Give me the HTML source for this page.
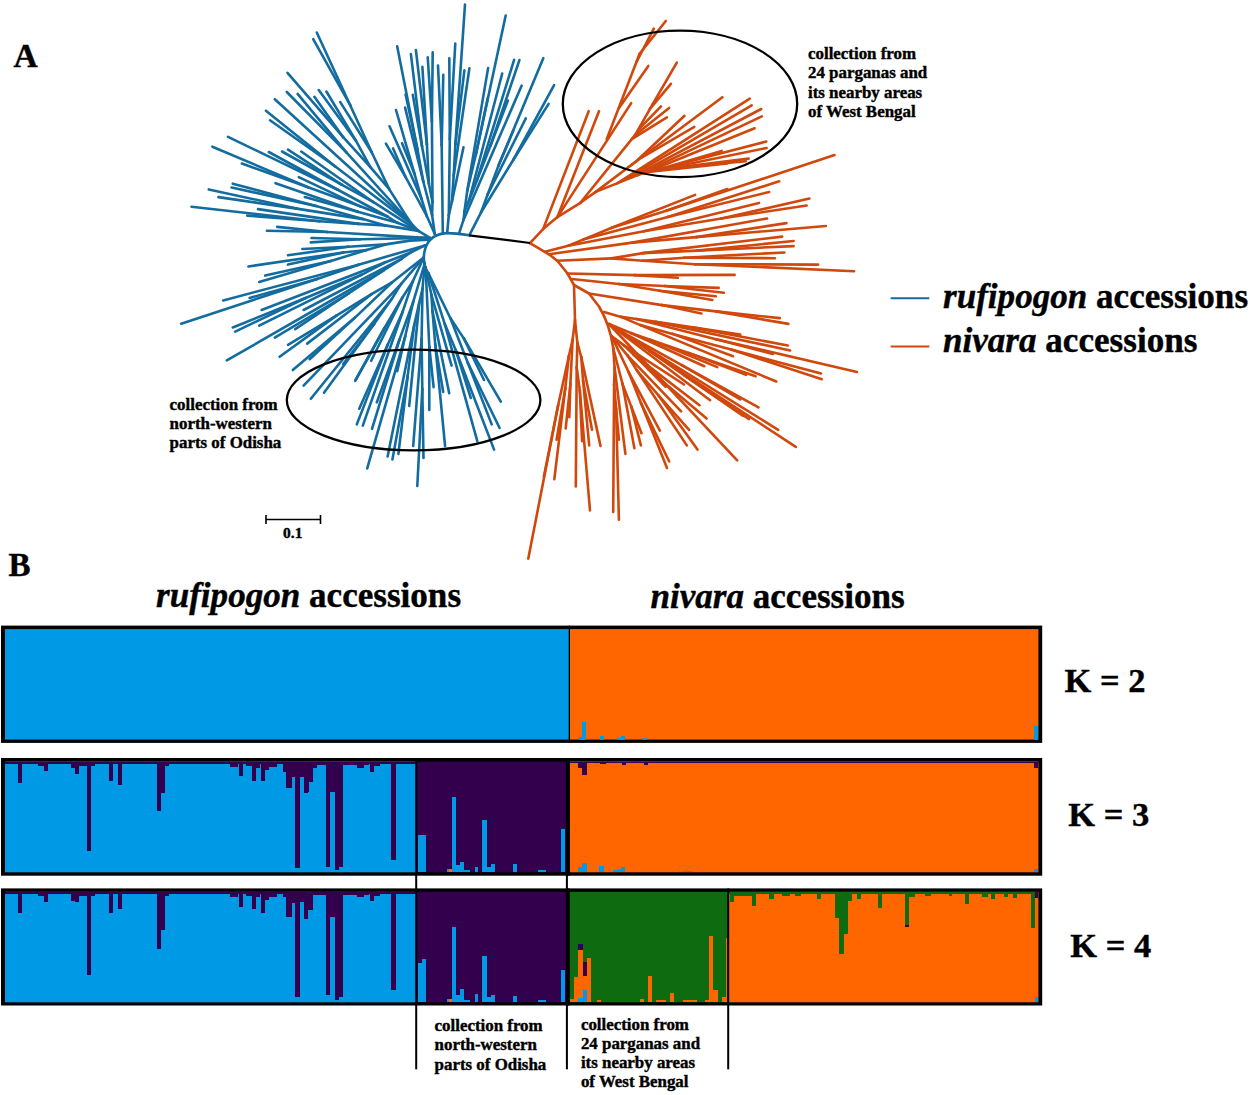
<!DOCTYPE html>
<html><head><meta charset="utf-8"><title>Figure</title>
<style>
html,body{margin:0;padding:0;background:#fff;}
#fig{position:relative;width:1250px;height:1095px;overflow:hidden;background:#fff;font-family:"Liberation Serif",serif;font-weight:bold;color:#000;}
#fig svg{position:absolute;left:0;top:0;}
.t{position:absolute;white-space:nowrap;margin:0;padding:0;-webkit-text-stroke:0.4px #000;}
</style></head><body>
<div id="fig">
<svg width="1250" height="1095" viewBox="0 0 1250 1095">
<g stroke-linecap="round" fill="none">
<line x1="429.9" y1="237.8" x2="418.4" y2="230.9" stroke="#136c9f" stroke-width="2.6"/>
<line x1="418.4" y1="230.9" x2="412.0" y2="224.5" stroke="#136c9f" stroke-width="2.6"/>
<line x1="412.0" y1="224.5" x2="407.0" y2="217.3" stroke="#136c9f" stroke-width="2.6"/>
<line x1="247.2" y1="215.6" x2="319.7" y2="221.2" stroke="#136c9f" stroke-width="2.6"/>
<line x1="191.5" y1="206.7" x2="319.7" y2="221.2" stroke="#136c9f" stroke-width="2.6"/>
<line x1="231.6" y1="187.5" x2="316.0" y2="206.0" stroke="#136c9f" stroke-width="2.6"/>
<line x1="232.8" y1="183.7" x2="316.0" y2="206.0" stroke="#136c9f" stroke-width="2.6"/>
<line x1="241.9" y1="163.5" x2="308.1" y2="187.3" stroke="#136c9f" stroke-width="2.6"/>
<line x1="212.4" y1="146.7" x2="308.1" y2="187.3" stroke="#136c9f" stroke-width="2.6"/>
<line x1="228.0" y1="136.9" x2="337.3" y2="189.5" stroke="#136c9f" stroke-width="2.6"/>
<line x1="268.8" y1="152.0" x2="337.3" y2="189.5" stroke="#136c9f" stroke-width="2.6"/>
<line x1="218.4" y1="197.1" x2="296.7" y2="208.6" stroke="#136c9f" stroke-width="2.6"/>
<line x1="208.8" y1="189.4" x2="296.7" y2="208.6" stroke="#136c9f" stroke-width="2.6"/>
<line x1="282.0" y1="151.5" x2="341.6" y2="184.6" stroke="#136c9f" stroke-width="2.6"/>
<line x1="288.0" y1="149.6" x2="341.6" y2="184.6" stroke="#136c9f" stroke-width="2.6"/>
<line x1="304.8" y1="197.1" x2="357.8" y2="211.8" stroke="#136c9f" stroke-width="2.6"/>
<line x1="275.5" y1="183.2" x2="357.8" y2="211.8" stroke="#136c9f" stroke-width="2.6"/>
<line x1="319.7" y1="221.2" x2="358.7" y2="223.9" stroke="#136c9f" stroke-width="2.6"/>
<line x1="258.0" y1="209.1" x2="358.7" y2="223.9" stroke="#136c9f" stroke-width="2.6"/>
<line x1="308.1" y1="187.3" x2="360.2" y2="206.3" stroke="#136c9f" stroke-width="2.6"/>
<line x1="298.8" y1="177.2" x2="360.2" y2="206.3" stroke="#136c9f" stroke-width="2.6"/>
<line x1="341.6" y1="184.6" x2="373.5" y2="202.2" stroke="#136c9f" stroke-width="2.6"/>
<line x1="301.2" y1="151.5" x2="373.5" y2="202.2" stroke="#136c9f" stroke-width="2.6"/>
<line x1="296.7" y1="208.6" x2="363.0" y2="219.1" stroke="#136c9f" stroke-width="2.6"/>
<line x1="316.0" y1="206.0" x2="363.0" y2="219.1" stroke="#136c9f" stroke-width="2.6"/>
<line x1="360.2" y1="206.3" x2="387.4" y2="216.5" stroke="#136c9f" stroke-width="2.6"/>
<line x1="337.3" y1="189.5" x2="387.4" y2="216.5" stroke="#136c9f" stroke-width="2.6"/>
<line x1="358.7" y1="223.9" x2="385.2" y2="225.4" stroke="#136c9f" stroke-width="2.6"/>
<line x1="363.0" y1="219.1" x2="385.2" y2="225.4" stroke="#136c9f" stroke-width="2.6"/>
<line x1="357.8" y1="211.8" x2="397.5" y2="222.8" stroke="#136c9f" stroke-width="2.6"/>
<line x1="387.4" y1="216.5" x2="397.5" y2="222.8" stroke="#136c9f" stroke-width="2.6"/>
<line x1="385.2" y1="225.4" x2="418.4" y2="230.9" stroke="#136c9f" stroke-width="2.6"/>
<line x1="397.5" y1="222.8" x2="418.4" y2="230.9" stroke="#136c9f" stroke-width="2.6"/>
<line x1="373.5" y1="202.2" x2="418.4" y2="230.9" stroke="#136c9f" stroke-width="2.6"/>
<line x1="270.0" y1="120.3" x2="335.3" y2="166.5" stroke="#136c9f" stroke-width="2.6"/>
<line x1="265.9" y1="110.7" x2="335.3" y2="166.5" stroke="#136c9f" stroke-width="2.6"/>
<line x1="286.8" y1="92.0" x2="346.4" y2="152.4" stroke="#136c9f" stroke-width="2.6"/>
<line x1="297.6" y1="93.9" x2="346.4" y2="152.4" stroke="#136c9f" stroke-width="2.6"/>
<line x1="335.3" y1="166.5" x2="412.0" y2="224.5" stroke="#136c9f" stroke-width="2.6"/>
<line x1="274.8" y1="99.2" x2="412.0" y2="224.5" stroke="#136c9f" stroke-width="2.6"/>
<line x1="346.4" y1="152.4" x2="412.0" y2="224.5" stroke="#136c9f" stroke-width="2.6"/>
<line x1="313.2" y1="39.2" x2="350.2" y2="105.2" stroke="#136c9f" stroke-width="2.6"/>
<line x1="316.8" y1="32.5" x2="350.2" y2="105.2" stroke="#136c9f" stroke-width="2.6"/>
<line x1="287.5" y1="72.8" x2="343.2" y2="137.2" stroke="#136c9f" stroke-width="2.6"/>
<line x1="314.4" y1="96.8" x2="343.2" y2="137.2" stroke="#136c9f" stroke-width="2.6"/>
<line x1="318.7" y1="90.1" x2="355.9" y2="140.7" stroke="#136c9f" stroke-width="2.6"/>
<line x1="326.4" y1="91.5" x2="355.9" y2="140.7" stroke="#136c9f" stroke-width="2.6"/>
<line x1="340.3" y1="102.1" x2="371.7" y2="152.3" stroke="#136c9f" stroke-width="2.6"/>
<line x1="350.2" y1="105.2" x2="371.7" y2="152.3" stroke="#136c9f" stroke-width="2.6"/>
<line x1="343.2" y1="137.2" x2="370.2" y2="166.8" stroke="#136c9f" stroke-width="2.6"/>
<line x1="355.9" y1="140.7" x2="370.2" y2="166.8" stroke="#136c9f" stroke-width="2.6"/>
<line x1="370.2" y1="166.8" x2="389.2" y2="189.1" stroke="#136c9f" stroke-width="2.6"/>
<line x1="371.7" y1="152.3" x2="389.2" y2="189.1" stroke="#136c9f" stroke-width="2.6"/>
<line x1="389.2" y1="189.1" x2="407.0" y2="217.3" stroke="#136c9f" stroke-width="2.6"/>
<line x1="429.9" y1="237.8" x2="425.0" y2="237.9" stroke="#136c9f" stroke-width="2.6"/>
<line x1="428.5" y1="239.6" x2="410.0" y2="240.6" stroke="#136c9f" stroke-width="2.6"/>
<line x1="266.9" y1="230.7" x2="327.3" y2="232.0" stroke="#136c9f" stroke-width="2.6"/>
<line x1="277.2" y1="226.9" x2="327.3" y2="232.0" stroke="#136c9f" stroke-width="2.6"/>
<line x1="310.8" y1="242.4" x2="360.1" y2="239.2" stroke="#136c9f" stroke-width="2.6"/>
<line x1="311.5" y1="238.0" x2="360.1" y2="239.2" stroke="#136c9f" stroke-width="2.6"/>
<line x1="327.3" y1="232.0" x2="425.0" y2="237.9" stroke="#136c9f" stroke-width="2.6"/>
<line x1="360.1" y1="239.2" x2="425.0" y2="237.9" stroke="#136c9f" stroke-width="2.6"/>
<line x1="259.2" y1="281.9" x2="330.8" y2="261.0" stroke="#136c9f" stroke-width="2.6"/>
<line x1="265.2" y1="275.6" x2="330.8" y2="261.0" stroke="#136c9f" stroke-width="2.6"/>
<line x1="288.0" y1="264.6" x2="343.3" y2="252.5" stroke="#136c9f" stroke-width="2.6"/>
<line x1="248.4" y1="266.5" x2="343.3" y2="252.5" stroke="#136c9f" stroke-width="2.6"/>
<line x1="288.0" y1="255.3" x2="348.3" y2="246.7" stroke="#136c9f" stroke-width="2.6"/>
<line x1="302.4" y1="249.0" x2="348.3" y2="246.7" stroke="#136c9f" stroke-width="2.6"/>
<line x1="330.8" y1="261.0" x2="366.7" y2="250.0" stroke="#136c9f" stroke-width="2.6"/>
<line x1="343.3" y1="252.5" x2="366.7" y2="250.0" stroke="#136c9f" stroke-width="2.6"/>
<line x1="366.7" y1="250.0" x2="385.7" y2="244.4" stroke="#136c9f" stroke-width="2.6"/>
<line x1="348.3" y1="246.7" x2="385.7" y2="244.4" stroke="#136c9f" stroke-width="2.6"/>
<line x1="385.7" y1="244.4" x2="410.0" y2="240.6" stroke="#136c9f" stroke-width="2.6"/>
<line x1="181.2" y1="323.7" x2="317.1" y2="278.9" stroke="#136c9f" stroke-width="2.6"/>
<line x1="249.6" y1="298.0" x2="317.1" y2="278.9" stroke="#136c9f" stroke-width="2.6"/>
<line x1="235.2" y1="331.6" x2="305.6" y2="298.0" stroke="#136c9f" stroke-width="2.6"/>
<line x1="232.8" y1="327.5" x2="305.6" y2="298.0" stroke="#136c9f" stroke-width="2.6"/>
<line x1="295.2" y1="329.2" x2="348.6" y2="293.5" stroke="#136c9f" stroke-width="2.6"/>
<line x1="274.8" y1="337.6" x2="348.6" y2="293.5" stroke="#136c9f" stroke-width="2.6"/>
<line x1="317.1" y1="278.9" x2="358.6" y2="264.7" stroke="#136c9f" stroke-width="2.6"/>
<line x1="223.2" y1="300.4" x2="358.6" y2="264.7" stroke="#136c9f" stroke-width="2.6"/>
<line x1="259.2" y1="325.6" x2="361.4" y2="274.8" stroke="#136c9f" stroke-width="2.6"/>
<line x1="305.6" y1="298.0" x2="361.4" y2="274.8" stroke="#136c9f" stroke-width="2.6"/>
<line x1="348.6" y1="293.5" x2="383.5" y2="270.5" stroke="#136c9f" stroke-width="2.6"/>
<line x1="226.8" y1="360.4" x2="383.5" y2="270.5" stroke="#136c9f" stroke-width="2.6"/>
<line x1="383.5" y1="270.5" x2="401.5" y2="258.8" stroke="#136c9f" stroke-width="2.6"/>
<line x1="303.6" y1="310.0" x2="401.5" y2="258.8" stroke="#136c9f" stroke-width="2.6"/>
<line x1="361.4" y1="274.8" x2="384.3" y2="262.8" stroke="#136c9f" stroke-width="2.6"/>
<line x1="261.6" y1="310.0" x2="384.3" y2="262.8" stroke="#136c9f" stroke-width="2.6"/>
<line x1="401.5" y1="258.8" x2="410.6" y2="252.5" stroke="#136c9f" stroke-width="2.6"/>
<line x1="384.3" y1="262.8" x2="410.6" y2="252.5" stroke="#136c9f" stroke-width="2.6"/>
<line x1="410.6" y1="252.5" x2="425.0" y2="245.4" stroke="#136c9f" stroke-width="2.6"/>
<line x1="358.6" y1="264.7" x2="425.0" y2="245.4" stroke="#136c9f" stroke-width="2.6"/>
<line x1="355.2" y1="380.8" x2="384.5" y2="328.0" stroke="#136c9f" stroke-width="2.6"/>
<line x1="355.6" y1="380.0" x2="384.5" y2="328.0" stroke="#136c9f" stroke-width="2.6"/>
<line x1="324.0" y1="392.8" x2="374.4" y2="323.6" stroke="#136c9f" stroke-width="2.6"/>
<line x1="343.2" y1="364.0" x2="374.4" y2="323.6" stroke="#136c9f" stroke-width="2.6"/>
<line x1="309.6" y1="359.2" x2="355.0" y2="317.6" stroke="#136c9f" stroke-width="2.6"/>
<line x1="292.8" y1="370.0" x2="355.0" y2="317.6" stroke="#136c9f" stroke-width="2.6"/>
<line x1="356.8" y1="424.4" x2="387.7" y2="344.7" stroke="#136c9f" stroke-width="2.6"/>
<line x1="359.2" y1="408.8" x2="387.7" y2="344.7" stroke="#136c9f" stroke-width="2.6"/>
<line x1="279.6" y1="356.8" x2="336.4" y2="315.6" stroke="#136c9f" stroke-width="2.6"/>
<line x1="288.0" y1="344.8" x2="336.4" y2="315.6" stroke="#136c9f" stroke-width="2.6"/>
<line x1="374.4" y1="323.6" x2="391.7" y2="299.0" stroke="#136c9f" stroke-width="2.6"/>
<line x1="310.8" y1="398.8" x2="391.7" y2="299.0" stroke="#136c9f" stroke-width="2.6"/>
<line x1="371.2" y1="360.8" x2="402.3" y2="297.7" stroke="#136c9f" stroke-width="2.6"/>
<line x1="384.5" y1="328.0" x2="402.3" y2="297.7" stroke="#136c9f" stroke-width="2.6"/>
<line x1="362.8" y1="425.6" x2="402.7" y2="311.7" stroke="#136c9f" stroke-width="2.6"/>
<line x1="387.7" y1="344.7" x2="402.7" y2="311.7" stroke="#136c9f" stroke-width="2.6"/>
<line x1="307.2" y1="343.6" x2="371.5" y2="294.2" stroke="#136c9f" stroke-width="2.6"/>
<line x1="336.4" y1="315.6" x2="371.5" y2="294.2" stroke="#136c9f" stroke-width="2.6"/>
<line x1="391.7" y1="299.0" x2="401.2" y2="283.9" stroke="#136c9f" stroke-width="2.6"/>
<line x1="303.6" y1="385.6" x2="401.2" y2="283.9" stroke="#136c9f" stroke-width="2.6"/>
<line x1="355.0" y1="317.6" x2="391.6" y2="282.7" stroke="#136c9f" stroke-width="2.6"/>
<line x1="371.5" y1="294.2" x2="391.6" y2="282.7" stroke="#136c9f" stroke-width="2.6"/>
<line x1="402.7" y1="311.7" x2="412.9" y2="281.2" stroke="#136c9f" stroke-width="2.6"/>
<line x1="402.3" y1="297.7" x2="412.9" y2="281.2" stroke="#136c9f" stroke-width="2.6"/>
<line x1="412.9" y1="281.2" x2="423.7" y2="257.5" stroke="#136c9f" stroke-width="2.6"/>
<line x1="401.2" y1="283.9" x2="423.7" y2="257.5" stroke="#136c9f" stroke-width="2.6"/>
<line x1="391.6" y1="282.7" x2="423.7" y2="257.5" stroke="#136c9f" stroke-width="2.6"/>
<line x1="397.2" y1="371.2" x2="405.2" y2="336.3" stroke="#136c9f" stroke-width="2.6"/>
<line x1="367.2" y1="468.4" x2="405.2" y2="336.3" stroke="#136c9f" stroke-width="2.6"/>
<line x1="372.0" y1="428.8" x2="399.5" y2="339.5" stroke="#136c9f" stroke-width="2.6"/>
<line x1="376.8" y1="402.4" x2="399.5" y2="339.5" stroke="#136c9f" stroke-width="2.6"/>
<line x1="398.4" y1="454.0" x2="407.7" y2="375.9" stroke="#136c9f" stroke-width="2.6"/>
<line x1="392.4" y1="459.5" x2="407.7" y2="375.9" stroke="#136c9f" stroke-width="2.6"/>
<line x1="423.5" y1="458.0" x2="422.3" y2="388.7" stroke="#136c9f" stroke-width="2.6"/>
<line x1="417.3" y1="486.0" x2="422.3" y2="388.7" stroke="#136c9f" stroke-width="2.6"/>
<line x1="407.7" y1="375.9" x2="414.2" y2="325.1" stroke="#136c9f" stroke-width="2.6"/>
<line x1="387.6" y1="456.4" x2="414.2" y2="325.1" stroke="#136c9f" stroke-width="2.6"/>
<line x1="422.3" y1="388.7" x2="421.6" y2="338.9" stroke="#136c9f" stroke-width="2.6"/>
<line x1="413.2" y1="446.0" x2="421.6" y2="338.9" stroke="#136c9f" stroke-width="2.6"/>
<line x1="405.2" y1="336.3" x2="413.2" y2="301.9" stroke="#136c9f" stroke-width="2.6"/>
<line x1="399.5" y1="339.5" x2="413.2" y2="301.9" stroke="#136c9f" stroke-width="2.6"/>
<line x1="409.2" y1="406.0" x2="419.3" y2="302.5" stroke="#136c9f" stroke-width="2.6"/>
<line x1="414.2" y1="325.1" x2="419.3" y2="302.5" stroke="#136c9f" stroke-width="2.6"/>
<line x1="421.6" y1="338.9" x2="422.5" y2="288.7" stroke="#136c9f" stroke-width="2.6"/>
<line x1="419.3" y1="302.5" x2="422.5" y2="288.7" stroke="#136c9f" stroke-width="2.6"/>
<line x1="422.5" y1="288.7" x2="424.8" y2="263.3" stroke="#136c9f" stroke-width="2.6"/>
<line x1="413.2" y1="301.9" x2="424.8" y2="263.3" stroke="#136c9f" stroke-width="2.6"/>
<line x1="443.2" y1="392.0" x2="435.2" y2="344.1" stroke="#136c9f" stroke-width="2.6"/>
<line x1="445.1" y1="446.0" x2="435.2" y2="344.1" stroke="#136c9f" stroke-width="2.6"/>
<line x1="433.6" y1="387.2" x2="429.3" y2="346.7" stroke="#136c9f" stroke-width="2.6"/>
<line x1="429.3" y1="410.0" x2="429.3" y2="346.7" stroke="#136c9f" stroke-width="2.6"/>
<line x1="449.2" y1="393.2" x2="432.5" y2="311.2" stroke="#136c9f" stroke-width="2.6"/>
<line x1="435.2" y1="344.1" x2="432.5" y2="311.2" stroke="#136c9f" stroke-width="2.6"/>
<line x1="451.6" y1="365.6" x2="431.4" y2="294.8" stroke="#136c9f" stroke-width="2.6"/>
<line x1="432.5" y1="311.2" x2="431.4" y2="294.8" stroke="#136c9f" stroke-width="2.6"/>
<line x1="431.4" y1="294.8" x2="425.6" y2="267.0" stroke="#136c9f" stroke-width="2.6"/>
<line x1="429.3" y1="346.7" x2="425.6" y2="267.0" stroke="#136c9f" stroke-width="2.6"/>
<line x1="494.1" y1="449.6" x2="455.7" y2="350.0" stroke="#136c9f" stroke-width="2.6"/>
<line x1="470.8" y1="398.0" x2="455.7" y2="350.0" stroke="#136c9f" stroke-width="2.6"/>
<line x1="500.8" y1="401.6" x2="463.8" y2="338.4" stroke="#136c9f" stroke-width="2.6"/>
<line x1="484.0" y1="380.0" x2="463.8" y2="338.4" stroke="#136c9f" stroke-width="2.6"/>
<line x1="499.6" y1="428.0" x2="467.8" y2="362.8" stroke="#136c9f" stroke-width="2.6"/>
<line x1="491.7" y1="424.4" x2="467.8" y2="362.8" stroke="#136c9f" stroke-width="2.6"/>
<line x1="455.7" y1="350.0" x2="444.8" y2="324.1" stroke="#136c9f" stroke-width="2.6"/>
<line x1="477.3" y1="441.2" x2="444.8" y2="324.1" stroke="#136c9f" stroke-width="2.6"/>
<line x1="463.8" y1="338.4" x2="450.3" y2="318.0" stroke="#136c9f" stroke-width="2.6"/>
<line x1="467.8" y1="362.8" x2="450.3" y2="318.0" stroke="#136c9f" stroke-width="2.6"/>
<line x1="450.3" y1="318.0" x2="428.3" y2="273.0" stroke="#136c9f" stroke-width="2.6"/>
<line x1="444.8" y1="324.1" x2="428.3" y2="273.0" stroke="#136c9f" stroke-width="2.6"/>
<line x1="405.6" y1="94.4" x2="417.6" y2="150.1" stroke="#136c9f" stroke-width="2.6"/>
<line x1="397.2" y1="46.4" x2="417.6" y2="150.1" stroke="#136c9f" stroke-width="2.6"/>
<line x1="412.8" y1="94.9" x2="422.0" y2="146.2" stroke="#136c9f" stroke-width="2.6"/>
<line x1="410.9" y1="54.1" x2="422.0" y2="146.2" stroke="#136c9f" stroke-width="2.6"/>
<line x1="415.9" y1="50.0" x2="426.9" y2="144.4" stroke="#136c9f" stroke-width="2.6"/>
<line x1="422.4" y1="66.8" x2="426.9" y2="144.4" stroke="#136c9f" stroke-width="2.6"/>
<line x1="427.7" y1="57.2" x2="431.9" y2="121.5" stroke="#136c9f" stroke-width="2.6"/>
<line x1="432.7" y1="52.4" x2="431.9" y2="121.5" stroke="#136c9f" stroke-width="2.6"/>
<line x1="405.1" y1="107.6" x2="423.3" y2="181.5" stroke="#136c9f" stroke-width="2.6"/>
<line x1="417.6" y1="150.1" x2="423.3" y2="181.5" stroke="#136c9f" stroke-width="2.6"/>
<line x1="385.9" y1="143.6" x2="405.2" y2="176.3" stroke="#136c9f" stroke-width="2.6"/>
<line x1="393.1" y1="148.4" x2="405.2" y2="176.3" stroke="#136c9f" stroke-width="2.6"/>
<line x1="402.0" y1="143.1" x2="414.6" y2="174.1" stroke="#136c9f" stroke-width="2.6"/>
<line x1="396.0" y1="110.0" x2="414.6" y2="174.1" stroke="#136c9f" stroke-width="2.6"/>
<line x1="422.0" y1="146.2" x2="428.9" y2="183.7" stroke="#136c9f" stroke-width="2.6"/>
<line x1="426.9" y1="144.4" x2="428.9" y2="183.7" stroke="#136c9f" stroke-width="2.6"/>
<line x1="389.5" y1="126.3" x2="421.7" y2="199.3" stroke="#136c9f" stroke-width="2.6"/>
<line x1="414.6" y1="174.1" x2="421.7" y2="199.3" stroke="#136c9f" stroke-width="2.6"/>
<line x1="428.9" y1="183.7" x2="432.5" y2="202.1" stroke="#136c9f" stroke-width="2.6"/>
<line x1="431.9" y1="121.5" x2="432.5" y2="202.1" stroke="#136c9f" stroke-width="2.6"/>
<line x1="405.2" y1="176.3" x2="426.8" y2="216.0" stroke="#136c9f" stroke-width="2.6"/>
<line x1="421.7" y1="199.3" x2="426.8" y2="216.0" stroke="#136c9f" stroke-width="2.6"/>
<line x1="423.3" y1="181.5" x2="432.1" y2="215.1" stroke="#136c9f" stroke-width="2.6"/>
<line x1="432.5" y1="202.1" x2="432.1" y2="215.1" stroke="#136c9f" stroke-width="2.6"/>
<line x1="426.8" y1="216.0" x2="434.8" y2="234.0" stroke="#136c9f" stroke-width="2.6"/>
<line x1="432.1" y1="215.1" x2="434.8" y2="234.0" stroke="#136c9f" stroke-width="2.6"/>
<line x1="438.0" y1="65.6" x2="441.7" y2="145.4" stroke="#136c9f" stroke-width="2.6"/>
<line x1="443.3" y1="74.7" x2="441.7" y2="145.4" stroke="#136c9f" stroke-width="2.6"/>
<line x1="441.7" y1="145.4" x2="442.8" y2="232.9" stroke="#136c9f" stroke-width="2.6"/>
<line x1="465.0" y1="4.6" x2="455.4" y2="144.2" stroke="#136c9f" stroke-width="2.6"/>
<line x1="464.4" y1="70.4" x2="455.4" y2="144.2" stroke="#136c9f" stroke-width="2.6"/>
<line x1="449.3" y1="58.4" x2="449.8" y2="139.4" stroke="#136c9f" stroke-width="2.6"/>
<line x1="455.3" y1="43.5" x2="449.8" y2="139.4" stroke="#136c9f" stroke-width="2.6"/>
<line x1="455.4" y1="144.2" x2="453.7" y2="175.7" stroke="#136c9f" stroke-width="2.6"/>
<line x1="469.4" y1="68.2" x2="453.7" y2="175.7" stroke="#136c9f" stroke-width="2.6"/>
<line x1="453.7" y1="175.7" x2="451.9" y2="201.8" stroke="#136c9f" stroke-width="2.6"/>
<line x1="463.5" y1="147.2" x2="451.9" y2="201.8" stroke="#136c9f" stroke-width="2.6"/>
<line x1="449.8" y1="139.4" x2="448.8" y2="215.2" stroke="#136c9f" stroke-width="2.6"/>
<line x1="451.9" y1="201.8" x2="448.8" y2="215.2" stroke="#136c9f" stroke-width="2.6"/>
<line x1="448.8" y1="215.2" x2="447.2" y2="232.9" stroke="#136c9f" stroke-width="2.6"/>
<line x1="487.8" y1="97.8" x2="476.0" y2="153.9" stroke="#136c9f" stroke-width="2.6"/>
<line x1="505.7" y1="15.5" x2="476.0" y2="153.9" stroke="#136c9f" stroke-width="2.6"/>
<line x1="519.4" y1="60.1" x2="490.6" y2="145.3" stroke="#136c9f" stroke-width="2.6"/>
<line x1="507.9" y1="100.5" x2="490.6" y2="145.3" stroke="#136c9f" stroke-width="2.6"/>
<line x1="488.1" y1="68.1" x2="467.3" y2="190.6" stroke="#136c9f" stroke-width="2.6"/>
<line x1="476.0" y1="153.9" x2="467.3" y2="190.6" stroke="#136c9f" stroke-width="2.6"/>
<line x1="514.1" y1="59.8" x2="476.8" y2="180.7" stroke="#136c9f" stroke-width="2.6"/>
<line x1="490.6" y1="145.3" x2="476.8" y2="180.7" stroke="#136c9f" stroke-width="2.6"/>
<line x1="502.2" y1="73.5" x2="468.9" y2="201.0" stroke="#136c9f" stroke-width="2.6"/>
<line x1="476.8" y1="180.7" x2="468.9" y2="201.0" stroke="#136c9f" stroke-width="2.6"/>
<line x1="467.3" y1="190.6" x2="464.4" y2="211.8" stroke="#136c9f" stroke-width="2.6"/>
<line x1="468.9" y1="201.0" x2="464.4" y2="211.8" stroke="#136c9f" stroke-width="2.6"/>
<line x1="464.4" y1="211.8" x2="463.6" y2="219.7" stroke="#136c9f" stroke-width="2.6"/>
<line x1="521.6" y1="85.7" x2="463.6" y2="219.7" stroke="#136c9f" stroke-width="2.6"/>
<line x1="463.6" y1="219.7" x2="458.9" y2="233.9" stroke="#136c9f" stroke-width="2.6"/>
<line x1="543.3" y1="58.2" x2="498.3" y2="166.1" stroke="#136c9f" stroke-width="2.6"/>
<line x1="513.2" y1="130.7" x2="498.3" y2="166.1" stroke="#136c9f" stroke-width="2.6"/>
<line x1="554.1" y1="85.2" x2="513.4" y2="159.7" stroke="#136c9f" stroke-width="2.6"/>
<line x1="548.6" y1="103.9" x2="513.4" y2="159.7" stroke="#136c9f" stroke-width="2.6"/>
<line x1="498.3" y1="166.1" x2="487.5" y2="194.9" stroke="#136c9f" stroke-width="2.6"/>
<line x1="525.8" y1="118.3" x2="487.5" y2="194.9" stroke="#136c9f" stroke-width="2.6"/>
<line x1="487.5" y1="194.9" x2="481.1" y2="212.3" stroke="#136c9f" stroke-width="2.6"/>
<line x1="513.4" y1="159.7" x2="481.1" y2="212.3" stroke="#136c9f" stroke-width="2.6"/>
<line x1="481.1" y1="212.3" x2="469.3" y2="235.3" stroke="#136c9f" stroke-width="2.6"/>
<path d="M469.5,235.3 C461,234 453,233.0 447,233.1 C440,233.4 434,236 430.5,239.5 C427.5,242.5 425.2,247 424.2,253 C423.4,259 424.2,265 426,269.5 L428.3,273" stroke="#136c9f" stroke-width="2.6"/>
<line x1="530.0" y1="243.2" x2="543.1" y2="229.1" stroke="#d0480c" stroke-width="2.6"/>
<line x1="543.1" y1="229.1" x2="557.4" y2="217.1" stroke="#d0480c" stroke-width="2.6"/>
<line x1="557.4" y1="217.1" x2="580.4" y2="202.8" stroke="#d0480c" stroke-width="2.6"/>
<line x1="580.4" y1="202.8" x2="595.7" y2="191.9" stroke="#d0480c" stroke-width="2.6"/>
<line x1="595.7" y1="191.9" x2="617.6" y2="183.1" stroke="#d0480c" stroke-width="2.6"/>
<line x1="617.6" y1="183.1" x2="644.0" y2="172.5" stroke="#d0480c" stroke-width="2.6"/>
<line x1="543.1" y1="229.1" x2="588.7" y2="111.2" stroke="#d0480c" stroke-width="2.6"/>
<line x1="557.4" y1="217.1" x2="599.0" y2="111.2" stroke="#d0480c" stroke-width="2.6"/>
<line x1="557.4" y1="217.1" x2="631.2" y2="103.1" stroke="#d0480c" stroke-width="2.6"/>
<line x1="606.7" y1="139.3" x2="639.6" y2="53.8" stroke="#d0480c" stroke-width="2.6"/>
<line x1="639.6" y1="53.8" x2="665.8" y2="21.0" stroke="#d0480c" stroke-width="2.6"/>
<line x1="636.5" y1="62.0" x2="653.8" y2="28.6" stroke="#d0480c" stroke-width="2.6"/>
<line x1="619.0" y1="108.0" x2="648.3" y2="65.9" stroke="#d0480c" stroke-width="2.6"/>
<line x1="580.4" y1="202.8" x2="635.2" y2="134.9" stroke="#d0480c" stroke-width="2.6"/>
<line x1="635.2" y1="134.9" x2="652.7" y2="104.2" stroke="#d0480c" stroke-width="2.6"/>
<line x1="652.7" y1="104.2" x2="676.8" y2="62.6" stroke="#d0480c" stroke-width="2.6"/>
<line x1="649.7" y1="109.2" x2="670.9" y2="83.8" stroke="#d0480c" stroke-width="2.6"/>
<line x1="638.2" y1="129.9" x2="661.0" y2="106.4" stroke="#d0480c" stroke-width="2.6"/>
<line x1="635.2" y1="134.9" x2="669.1" y2="107.9" stroke="#d0480c" stroke-width="2.6"/>
<line x1="632.2" y1="138.9" x2="666.9" y2="117.4" stroke="#d0480c" stroke-width="2.6"/>
<line x1="595.7" y1="191.9" x2="636.0" y2="161.5" stroke="#d0480c" stroke-width="2.6"/>
<line x1="636.0" y1="161.5" x2="684.5" y2="115.8" stroke="#d0480c" stroke-width="2.6"/>
<line x1="628.0" y1="167.5" x2="722.4" y2="97.2" stroke="#d0480c" stroke-width="2.6"/>
<line x1="642.0" y1="157.5" x2="694.3" y2="126.8" stroke="#d0480c" stroke-width="2.6"/>
<line x1="644.0" y1="172.5" x2="670.2" y2="168.2" stroke="#d0480c" stroke-width="2.6"/>
<line x1="617.6" y1="183.1" x2="749.8" y2="98.7" stroke="#d0480c" stroke-width="2.6"/>
<line x1="624.2" y1="179.8" x2="751.7" y2="105.3" stroke="#d0480c" stroke-width="2.6"/>
<line x1="630.8" y1="177.6" x2="761.2" y2="109.0" stroke="#d0480c" stroke-width="2.6"/>
<line x1="637.4" y1="175.4" x2="761.8" y2="116.3" stroke="#d0480c" stroke-width="2.6"/>
<line x1="643.9" y1="173.2" x2="754.6" y2="128.3" stroke="#d0480c" stroke-width="2.6"/>
<line x1="652.7" y1="171.0" x2="766.2" y2="141.5" stroke="#d0480c" stroke-width="2.6"/>
<line x1="661.5" y1="169.5" x2="766.6" y2="148.0" stroke="#d0480c" stroke-width="2.6"/>
<line x1="655.0" y1="170.5" x2="721.7" y2="150.9" stroke="#d0480c" stroke-width="2.6"/>
<line x1="670.2" y1="168.2" x2="748.7" y2="158.6" stroke="#d0480c" stroke-width="2.6"/>
<line x1="666.0" y1="168.8" x2="745.8" y2="161.2" stroke="#d0480c" stroke-width="2.6"/>
<line x1="648.0" y1="172.0" x2="727.2" y2="163.4" stroke="#d0480c" stroke-width="2.6"/>
<line x1="727.4" y1="189.1" x2="666.3" y2="210.7" stroke="#d0480c" stroke-width="2.6"/>
<line x1="834.5" y1="155.1" x2="666.3" y2="210.7" stroke="#d0480c" stroke-width="2.6"/>
<line x1="809.4" y1="198.6" x2="721.3" y2="218.5" stroke="#d0480c" stroke-width="2.6"/>
<line x1="806.6" y1="205.5" x2="721.3" y2="218.5" stroke="#d0480c" stroke-width="2.6"/>
<line x1="779.2" y1="181.3" x2="667.8" y2="216.9" stroke="#d0480c" stroke-width="2.6"/>
<line x1="769.1" y1="192.0" x2="667.8" y2="216.9" stroke="#d0480c" stroke-width="2.6"/>
<line x1="695.1" y1="194.9" x2="611.8" y2="227.8" stroke="#d0480c" stroke-width="2.6"/>
<line x1="666.3" y1="210.7" x2="611.8" y2="227.8" stroke="#d0480c" stroke-width="2.6"/>
<line x1="759.0" y1="202.9" x2="643.9" y2="231.2" stroke="#d0480c" stroke-width="2.6"/>
<line x1="721.3" y1="218.5" x2="643.9" y2="231.2" stroke="#d0480c" stroke-width="2.6"/>
<line x1="611.8" y1="227.8" x2="583.1" y2="239.6" stroke="#d0480c" stroke-width="2.6"/>
<line x1="667.8" y1="216.9" x2="583.1" y2="239.6" stroke="#d0480c" stroke-width="2.6"/>
<line x1="583.1" y1="239.6" x2="568.3" y2="245.7" stroke="#d0480c" stroke-width="2.6"/>
<line x1="643.9" y1="231.2" x2="568.3" y2="245.7" stroke="#d0480c" stroke-width="2.6"/>
<line x1="568.3" y1="245.7" x2="545.0" y2="251.8" stroke="#d0480c" stroke-width="2.6"/>
<line x1="786.4" y1="223.1" x2="696.1" y2="237.1" stroke="#d0480c" stroke-width="2.6"/>
<line x1="825.9" y1="226.0" x2="696.1" y2="237.1" stroke="#d0480c" stroke-width="2.6"/>
<line x1="767.1" y1="218.5" x2="632.2" y2="242.6" stroke="#d0480c" stroke-width="2.6"/>
<line x1="696.1" y1="237.1" x2="632.2" y2="242.6" stroke="#d0480c" stroke-width="2.6"/>
<line x1="632.2" y1="242.6" x2="549.0" y2="254.3" stroke="#d0480c" stroke-width="2.6"/>
<line x1="818.1" y1="264.6" x2="694.7" y2="264.2" stroke="#d0480c" stroke-width="2.6"/>
<line x1="854.1" y1="271.2" x2="694.7" y2="264.2" stroke="#d0480c" stroke-width="2.6"/>
<line x1="793.6" y1="241.0" x2="697.0" y2="250.6" stroke="#d0480c" stroke-width="2.6"/>
<line x1="793.6" y1="246.1" x2="697.0" y2="250.6" stroke="#d0480c" stroke-width="2.6"/>
<line x1="784.4" y1="252.5" x2="684.3" y2="257.7" stroke="#d0480c" stroke-width="2.6"/>
<line x1="774.9" y1="258.2" x2="684.3" y2="257.7" stroke="#d0480c" stroke-width="2.6"/>
<line x1="782.1" y1="236.6" x2="642.9" y2="253.1" stroke="#d0480c" stroke-width="2.6"/>
<line x1="697.0" y1="250.6" x2="642.9" y2="253.1" stroke="#d0480c" stroke-width="2.6"/>
<line x1="684.3" y1="257.7" x2="642.9" y2="260.8" stroke="#d0480c" stroke-width="2.6"/>
<line x1="694.7" y1="264.2" x2="642.9" y2="260.8" stroke="#d0480c" stroke-width="2.6"/>
<line x1="642.9" y1="253.1" x2="611.4" y2="258.4" stroke="#d0480c" stroke-width="2.6"/>
<line x1="642.9" y1="260.8" x2="611.4" y2="258.4" stroke="#d0480c" stroke-width="2.6"/>
<line x1="611.4" y1="258.4" x2="557.0" y2="260.8" stroke="#d0480c" stroke-width="2.6"/>
<line x1="734.6" y1="274.9" x2="634.5" y2="275.1" stroke="#d0480c" stroke-width="2.6"/>
<line x1="677.8" y1="277.8" x2="634.5" y2="275.1" stroke="#d0480c" stroke-width="2.6"/>
<line x1="634.5" y1="275.1" x2="567.5" y2="273.5" stroke="#d0480c" stroke-width="2.6"/>
<line x1="715.8" y1="296.3" x2="659.5" y2="290.8" stroke="#d0480c" stroke-width="2.6"/>
<line x1="712.4" y1="300.0" x2="659.5" y2="290.8" stroke="#d0480c" stroke-width="2.6"/>
<line x1="718.7" y1="287.9" x2="664.5" y2="286.0" stroke="#d0480c" stroke-width="2.6"/>
<line x1="723.9" y1="292.8" x2="664.5" y2="286.0" stroke="#d0480c" stroke-width="2.6"/>
<line x1="664.5" y1="286.0" x2="618.9" y2="284.0" stroke="#d0480c" stroke-width="2.6"/>
<line x1="659.5" y1="290.8" x2="618.9" y2="284.0" stroke="#d0480c" stroke-width="2.6"/>
<line x1="618.9" y1="284.0" x2="571.8" y2="279.0" stroke="#d0480c" stroke-width="2.6"/>
<line x1="779.8" y1="318.1" x2="716.0" y2="311.4" stroke="#d0480c" stroke-width="2.6"/>
<line x1="788.4" y1="323.9" x2="716.0" y2="311.4" stroke="#d0480c" stroke-width="2.6"/>
<line x1="716.0" y1="311.4" x2="662.0" y2="305.1" stroke="#d0480c" stroke-width="2.6"/>
<line x1="701.4" y1="313.5" x2="662.0" y2="305.1" stroke="#d0480c" stroke-width="2.6"/>
<line x1="662.0" y1="305.1" x2="589.0" y2="293.5" stroke="#d0480c" stroke-width="2.6"/>
<line x1="857.0" y1="372.0" x2="716.0" y2="339.2" stroke="#d0480c" stroke-width="2.6"/>
<line x1="772.9" y1="353.9" x2="716.0" y2="339.2" stroke="#d0480c" stroke-width="2.6"/>
<line x1="740.3" y1="334.6" x2="692.6" y2="327.4" stroke="#d0480c" stroke-width="2.6"/>
<line x1="787.8" y1="345.5" x2="692.6" y2="327.4" stroke="#d0480c" stroke-width="2.6"/>
<line x1="821.0" y1="373.4" x2="731.1" y2="349.6" stroke="#d0480c" stroke-width="2.6"/>
<line x1="821.8" y1="379.2" x2="731.1" y2="349.6" stroke="#d0480c" stroke-width="2.6"/>
<line x1="692.6" y1="327.4" x2="656.0" y2="321.9" stroke="#d0480c" stroke-width="2.6"/>
<line x1="790.1" y1="350.4" x2="656.0" y2="321.9" stroke="#d0480c" stroke-width="2.6"/>
<line x1="731.1" y1="349.6" x2="672.6" y2="333.9" stroke="#d0480c" stroke-width="2.6"/>
<line x1="733.1" y1="356.2" x2="672.6" y2="333.9" stroke="#d0480c" stroke-width="2.6"/>
<line x1="656.0" y1="321.9" x2="636.4" y2="319.0" stroke="#d0480c" stroke-width="2.6"/>
<line x1="716.0" y1="339.2" x2="636.4" y2="319.0" stroke="#d0480c" stroke-width="2.6"/>
<line x1="672.6" y1="333.9" x2="640.3" y2="325.1" stroke="#d0480c" stroke-width="2.6"/>
<line x1="776.3" y1="381.5" x2="640.3" y2="325.1" stroke="#d0480c" stroke-width="2.6"/>
<line x1="636.4" y1="319.0" x2="621.1" y2="316.9" stroke="#d0480c" stroke-width="2.6"/>
<line x1="640.3" y1="325.1" x2="621.1" y2="316.9" stroke="#d0480c" stroke-width="2.6"/>
<line x1="621.1" y1="316.9" x2="604.0" y2="312.0" stroke="#d0480c" stroke-width="2.6"/>
<line x1="749.1" y1="419.1" x2="684.0" y2="375.1" stroke="#d0480c" stroke-width="2.6"/>
<line x1="742.8" y1="415.7" x2="684.0" y2="375.1" stroke="#d0480c" stroke-width="2.6"/>
<line x1="758.5" y1="407.4" x2="681.8" y2="365.2" stroke="#d0480c" stroke-width="2.6"/>
<line x1="740.3" y1="399.4" x2="681.8" y2="365.2" stroke="#d0480c" stroke-width="2.6"/>
<line x1="755.6" y1="376.3" x2="688.7" y2="353.0" stroke="#d0480c" stroke-width="2.6"/>
<line x1="746.1" y1="374.9" x2="688.7" y2="353.0" stroke="#d0480c" stroke-width="2.6"/>
<line x1="795.8" y1="446.8" x2="649.3" y2="351.0" stroke="#d0480c" stroke-width="2.6"/>
<line x1="684.0" y1="375.1" x2="649.3" y2="351.0" stroke="#d0480c" stroke-width="2.6"/>
<line x1="688.7" y1="353.0" x2="650.8" y2="339.9" stroke="#d0480c" stroke-width="2.6"/>
<line x1="717.3" y1="367.1" x2="650.8" y2="339.9" stroke="#d0480c" stroke-width="2.6"/>
<line x1="778.2" y1="429.8" x2="631.4" y2="338.5" stroke="#d0480c" stroke-width="2.6"/>
<line x1="649.3" y1="351.0" x2="631.4" y2="338.5" stroke="#d0480c" stroke-width="2.6"/>
<line x1="650.8" y1="339.9" x2="631.4" y2="333.2" stroke="#d0480c" stroke-width="2.6"/>
<line x1="704.3" y1="366.2" x2="631.4" y2="333.2" stroke="#d0480c" stroke-width="2.6"/>
<line x1="681.8" y1="365.2" x2="622.3" y2="332.1" stroke="#d0480c" stroke-width="2.6"/>
<line x1="631.4" y1="338.5" x2="622.3" y2="332.1" stroke="#d0480c" stroke-width="2.6"/>
<line x1="631.4" y1="333.2" x2="609.0" y2="324.0" stroke="#d0480c" stroke-width="2.6"/>
<line x1="622.3" y1="332.1" x2="609.0" y2="324.0" stroke="#d0480c" stroke-width="2.6"/>
<line x1="710.1" y1="400.2" x2="609.0" y2="324.0" stroke="#d0480c" stroke-width="2.6"/>
<line x1="737.2" y1="460.4" x2="609.0" y2="324.0" stroke="#d0480c" stroke-width="2.6"/>
<line x1="669.2" y1="461.5" x2="641.0" y2="403.1" stroke="#d0480c" stroke-width="2.6"/>
<line x1="667.0" y1="468.0" x2="641.0" y2="403.1" stroke="#d0480c" stroke-width="2.6"/>
<line x1="706.6" y1="418.5" x2="648.0" y2="368.9" stroke="#d0480c" stroke-width="2.6"/>
<line x1="665.6" y1="386.8" x2="648.0" y2="368.9" stroke="#d0480c" stroke-width="2.6"/>
<line x1="689.1" y1="429.8" x2="658.5" y2="395.4" stroke="#d0480c" stroke-width="2.6"/>
<line x1="697.5" y1="449.6" x2="658.5" y2="395.4" stroke="#d0480c" stroke-width="2.6"/>
<line x1="659.9" y1="430.7" x2="628.8" y2="372.4" stroke="#d0480c" stroke-width="2.6"/>
<line x1="641.0" y1="403.1" x2="628.8" y2="372.4" stroke="#d0480c" stroke-width="2.6"/>
<line x1="658.5" y1="395.4" x2="637.0" y2="370.5" stroke="#d0480c" stroke-width="2.6"/>
<line x1="686.8" y1="445.4" x2="637.0" y2="370.5" stroke="#d0480c" stroke-width="2.6"/>
<line x1="699.5" y1="405.2" x2="633.3" y2="354.4" stroke="#d0480c" stroke-width="2.6"/>
<line x1="648.0" y1="368.9" x2="633.3" y2="354.4" stroke="#d0480c" stroke-width="2.6"/>
<line x1="681.1" y1="411.4" x2="627.4" y2="355.3" stroke="#d0480c" stroke-width="2.6"/>
<line x1="637.0" y1="370.5" x2="627.4" y2="355.3" stroke="#d0480c" stroke-width="2.6"/>
<line x1="684.0" y1="384.5" x2="624.0" y2="345.4" stroke="#d0480c" stroke-width="2.6"/>
<line x1="633.3" y1="354.4" x2="624.0" y2="345.4" stroke="#d0480c" stroke-width="2.6"/>
<line x1="624.0" y1="345.4" x2="611.5" y2="336.0" stroke="#d0480c" stroke-width="2.6"/>
<line x1="627.4" y1="355.3" x2="611.5" y2="336.0" stroke="#d0480c" stroke-width="2.6"/>
<line x1="628.8" y1="372.4" x2="611.5" y2="336.0" stroke="#d0480c" stroke-width="2.6"/>
<line x1="618.9" y1="439.7" x2="616.1" y2="408.4" stroke="#d0480c" stroke-width="2.6"/>
<line x1="618.9" y1="519.8" x2="616.1" y2="408.4" stroke="#d0480c" stroke-width="2.6"/>
<line x1="641.5" y1="433.2" x2="631.2" y2="406.4" stroke="#d0480c" stroke-width="2.6"/>
<line x1="640.9" y1="445.4" x2="631.2" y2="406.4" stroke="#d0480c" stroke-width="2.6"/>
<line x1="616.1" y1="408.4" x2="614.1" y2="384.2" stroke="#d0480c" stroke-width="2.6"/>
<line x1="613.2" y1="511.9" x2="614.1" y2="384.2" stroke="#d0480c" stroke-width="2.6"/>
<line x1="631.2" y1="406.4" x2="622.4" y2="383.6" stroke="#d0480c" stroke-width="2.6"/>
<line x1="634.4" y1="448.2" x2="622.4" y2="383.6" stroke="#d0480c" stroke-width="2.6"/>
<line x1="625.4" y1="453.9" x2="614.6" y2="367.5" stroke="#d0480c" stroke-width="2.6"/>
<line x1="614.1" y1="384.2" x2="614.6" y2="367.5" stroke="#d0480c" stroke-width="2.6"/>
<line x1="622.4" y1="383.6" x2="613.2" y2="348.0" stroke="#d0480c" stroke-width="2.6"/>
<line x1="614.6" y1="367.5" x2="613.2" y2="348.0" stroke="#d0480c" stroke-width="2.6"/>
<line x1="528.3" y1="558.6" x2="558.2" y2="405.0" stroke="#d0480c" stroke-width="2.6"/>
<line x1="543.9" y1="476.5" x2="558.2" y2="405.0" stroke="#d0480c" stroke-width="2.6"/>
<line x1="590.0" y1="510.5" x2="579.8" y2="390.2" stroke="#d0480c" stroke-width="2.6"/>
<line x1="582.1" y1="441.1" x2="579.8" y2="390.2" stroke="#d0480c" stroke-width="2.6"/>
<line x1="554.3" y1="479.3" x2="565.3" y2="388.1" stroke="#d0480c" stroke-width="2.6"/>
<line x1="556.6" y1="439.7" x2="565.3" y2="388.1" stroke="#d0480c" stroke-width="2.6"/>
<line x1="569.3" y1="417.1" x2="570.4" y2="383.6" stroke="#d0480c" stroke-width="2.6"/>
<line x1="565.7" y1="428.4" x2="570.4" y2="383.6" stroke="#d0480c" stroke-width="2.6"/>
<line x1="592.0" y1="429.8" x2="583.1" y2="380.8" stroke="#d0480c" stroke-width="2.6"/>
<line x1="589.2" y1="445.4" x2="583.1" y2="380.8" stroke="#d0480c" stroke-width="2.6"/>
<line x1="565.3" y1="388.1" x2="568.9" y2="356.0" stroke="#d0480c" stroke-width="2.6"/>
<line x1="558.2" y1="405.0" x2="568.9" y2="356.0" stroke="#d0480c" stroke-width="2.6"/>
<line x1="579.8" y1="390.2" x2="576.7" y2="367.4" stroke="#d0480c" stroke-width="2.6"/>
<line x1="575.8" y1="486.4" x2="576.7" y2="367.4" stroke="#d0480c" stroke-width="2.6"/>
<line x1="600.5" y1="445.9" x2="581.2" y2="356.8" stroke="#d0480c" stroke-width="2.6"/>
<line x1="583.1" y1="380.8" x2="581.2" y2="356.8" stroke="#d0480c" stroke-width="2.6"/>
<line x1="570.4" y1="383.6" x2="572.6" y2="339.9" stroke="#d0480c" stroke-width="2.6"/>
<line x1="568.9" y1="356.0" x2="572.6" y2="339.9" stroke="#d0480c" stroke-width="2.6"/>
<line x1="581.2" y1="356.8" x2="577.3" y2="342.7" stroke="#d0480c" stroke-width="2.6"/>
<line x1="576.7" y1="367.4" x2="577.3" y2="342.7" stroke="#d0480c" stroke-width="2.6"/>
<line x1="577.3" y1="342.7" x2="575.0" y2="320.0" stroke="#d0480c" stroke-width="2.6"/>
<line x1="572.6" y1="339.9" x2="575.0" y2="320.0" stroke="#d0480c" stroke-width="2.6"/>
<path d="M530,243.2 L549,254.3 L557.5,261 L567.5,273.5 L574,285 L575,320" stroke="#d0480c" stroke-width="2.6" stroke-linejoin="round"/>
<path d="M574,285 L589,293.5 L599,306.5 C606,318 611,332 613.2,348" stroke="#d0480c" stroke-width="2.6" stroke-linejoin="round"/>
</g>
<line x1="469.2" y1="235.3" x2="530.0" y2="243.0" stroke="#000" stroke-width="2.2"/>
<ellipse cx="680" cy="103.9" rx="117.2" ry="73.2" fill="none" stroke="#000" stroke-width="2.3"/>
<ellipse cx="413.6" cy="400" rx="126.8" ry="50.4" fill="none" stroke="#000" stroke-width="2.3"/>
<line x1="266.0" y1="519.5" x2="320.5" y2="519.5" stroke="#000" stroke-width="1.6"/>
<line x1="266.0" y1="515.0" x2="266.0" y2="524.0" stroke="#000" stroke-width="1.6"/>
<line x1="320.5" y1="515.0" x2="320.5" y2="524.0" stroke="#000" stroke-width="1.6"/>
<line x1="890.7" y1="298.3" x2="929.3" y2="298.3" stroke="#136c9f" stroke-width="2"/>
<line x1="890.7" y1="346.6" x2="929.3" y2="346.6" stroke="#d0480c" stroke-width="2"/>
<g>
<rect x="1.00" y="625.60" width="1041.20" height="117.30" fill="#000"/>
<rect x="5.00" y="629.10" width="564.40" height="110.50" fill="#0099e6"/>
<rect x="569.40" y="629.10" width="469.00" height="110.50" fill="#ff6600"/>
<rect x="582.40" y="722.00" width="4.00" height="17.60" fill="#0099e6" shape-rendering="crispEdges"/>
<rect x="578.50" y="736.50" width="4.00" height="3.10" fill="#0099e6" shape-rendering="crispEdges"/>
<rect x="600.00" y="736.40" width="4.00" height="3.20" fill="#0099e6" shape-rendering="crispEdges"/>
<rect x="617.00" y="737.50" width="4.00" height="2.10" fill="#0099e6" shape-rendering="crispEdges"/>
<rect x="621.00" y="735.60" width="4.00" height="4.00" fill="#0099e6" shape-rendering="crispEdges"/>
<rect x="643.00" y="737.60" width="4.00" height="2.00" fill="#0099e6" shape-rendering="crispEdges"/>
<rect x="1034.40" y="726.00" width="4.00" height="13.60" fill="#0099e6" shape-rendering="crispEdges"/>
<rect x="1.00" y="758.00" width="1041.20" height="117.70" fill="#000"/>
<rect x="5.00" y="761.60" width="411.20" height="110.70" fill="#0099e6"/>
<rect x="416.20" y="761.60" width="153.20" height="110.70" fill="#33004d"/>
<rect x="569.40" y="761.60" width="469.00" height="110.70" fill="#ff6600"/>
<rect x="5.00" y="761.60" width="411.20" height="2.20" fill="#33004d" shape-rendering="crispEdges"/>
<rect x="17.70" y="761.60" width="4.10" height="21.70" fill="#33004d" shape-rendering="crispEdges"/>
<rect x="44.00" y="761.60" width="4.10" height="8.90" fill="#33004d" shape-rendering="crispEdges"/>
<rect x="38.00" y="761.60" width="6.00" height="3.90" fill="#33004d" shape-rendering="crispEdges"/>
<rect x="71.00" y="761.60" width="4.10" height="6.40" fill="#33004d" shape-rendering="crispEdges"/>
<rect x="75.10" y="761.60" width="4.10" height="11.90" fill="#33004d" shape-rendering="crispEdges"/>
<rect x="79.20" y="761.60" width="4.10" height="4.40" fill="#33004d" shape-rendering="crispEdges"/>
<rect x="83.30" y="761.60" width="4.10" height="4.40" fill="#33004d" shape-rendering="crispEdges"/>
<rect x="87.30" y="761.60" width="4.10" height="89.40" fill="#33004d" shape-rendering="crispEdges"/>
<rect x="91.40" y="761.60" width="4.00" height="4.40" fill="#33004d" shape-rendering="crispEdges"/>
<rect x="108.50" y="761.60" width="4.10" height="19.40" fill="#33004d" shape-rendering="crispEdges"/>
<rect x="117.60" y="761.60" width="4.10" height="23.00" fill="#33004d" shape-rendering="crispEdges"/>
<rect x="156.70" y="761.60" width="4.10" height="49.10" fill="#33004d" shape-rendering="crispEdges"/>
<rect x="160.80" y="761.60" width="4.10" height="31.40" fill="#33004d" shape-rendering="crispEdges"/>
<rect x="164.90" y="761.60" width="4.00" height="4.40" fill="#33004d" shape-rendering="crispEdges"/>
<rect x="230.00" y="761.60" width="8.00" height="5.40" fill="#33004d" shape-rendering="crispEdges"/>
<rect x="238.60" y="761.60" width="4.10" height="14.00" fill="#33004d" shape-rendering="crispEdges"/>
<rect x="246.00" y="761.60" width="6.00" height="4.40" fill="#33004d" shape-rendering="crispEdges"/>
<rect x="252.20" y="761.60" width="4.10" height="19.40" fill="#33004d" shape-rendering="crispEdges"/>
<rect x="256.30" y="761.60" width="4.10" height="6.40" fill="#33004d" shape-rendering="crispEdges"/>
<rect x="261.00" y="761.60" width="4.10" height="19.40" fill="#33004d" shape-rendering="crispEdges"/>
<rect x="265.00" y="761.60" width="4.10" height="8.40" fill="#33004d" shape-rendering="crispEdges"/>
<rect x="269.00" y="761.60" width="8.00" height="5.40" fill="#33004d" shape-rendering="crispEdges"/>
<rect x="283.00" y="761.60" width="4.10" height="10.40" fill="#33004d" shape-rendering="crispEdges"/>
<rect x="287.30" y="761.60" width="4.10" height="25.40" fill="#33004d" shape-rendering="crispEdges"/>
<rect x="291.40" y="761.60" width="4.10" height="15.40" fill="#33004d" shape-rendering="crispEdges"/>
<rect x="295.60" y="761.60" width="4.10" height="106.20" fill="#33004d" shape-rendering="crispEdges"/>
<rect x="299.70" y="761.60" width="4.10" height="15.40" fill="#33004d" shape-rendering="crispEdges"/>
<rect x="304.40" y="761.60" width="4.10" height="30.40" fill="#33004d" shape-rendering="crispEdges"/>
<rect x="308.50" y="761.60" width="4.10" height="20.40" fill="#33004d" shape-rendering="crispEdges"/>
<rect x="312.60" y="761.60" width="4.10" height="6.40" fill="#33004d" shape-rendering="crispEdges"/>
<rect x="282.50" y="761.60" width="4.00" height="6.40" fill="#33004d" shape-rendering="crispEdges"/>
<rect x="286.40" y="761.60" width="5.20" height="26.40" fill="#33004d" shape-rendering="crispEdges"/>
<rect x="291.50" y="761.60" width="4.00" height="15.40" fill="#33004d" shape-rendering="crispEdges"/>
<rect x="295.40" y="761.60" width="4.40" height="106.20" fill="#33004d" shape-rendering="crispEdges"/>
<rect x="299.70" y="761.60" width="4.60" height="10.90" fill="#33004d" shape-rendering="crispEdges"/>
<rect x="304.30" y="761.60" width="4.00" height="31.40" fill="#33004d" shape-rendering="crispEdges"/>
<rect x="308.20" y="761.60" width="4.60" height="20.40" fill="#33004d" shape-rendering="crispEdges"/>
<rect x="312.80" y="761.60" width="13.00" height="2.90" fill="#33004d" shape-rendering="crispEdges"/>
<rect x="326.00" y="761.60" width="4.40" height="105.40" fill="#33004d" shape-rendering="crispEdges"/>
<rect x="330.40" y="761.60" width="4.20" height="30.40" fill="#33004d" shape-rendering="crispEdges"/>
<rect x="334.50" y="761.60" width="4.40" height="108.40" fill="#33004d" shape-rendering="crispEdges"/>
<rect x="338.90" y="761.60" width="4.40" height="105.40" fill="#33004d" shape-rendering="crispEdges"/>
<rect x="343.30" y="761.60" width="14.00" height="3.40" fill="#33004d" shape-rendering="crispEdges"/>
<rect x="356.80" y="761.60" width="7.60" height="6.40" fill="#33004d" shape-rendering="crispEdges"/>
<rect x="364.40" y="761.60" width="5.00" height="3.40" fill="#33004d" shape-rendering="crispEdges"/>
<rect x="369.50" y="761.60" width="4.00" height="10.40" fill="#33004d" shape-rendering="crispEdges"/>
<rect x="373.50" y="761.60" width="6.00" height="4.40" fill="#33004d" shape-rendering="crispEdges"/>
<rect x="391.30" y="761.60" width="4.40" height="98.00" fill="#33004d" shape-rendering="crispEdges"/>
<rect x="417.50" y="835.30" width="8.40" height="37.00" fill="#0099e6" shape-rendering="crispEdges"/>
<rect x="452.00" y="796.90" width="4.20" height="75.40" fill="#0099e6" shape-rendering="crispEdges"/>
<rect x="456.20" y="865.00" width="4.20" height="7.30" fill="#0099e6" shape-rendering="crispEdges"/>
<rect x="460.40" y="862.00" width="4.00" height="10.30" fill="#0099e6" shape-rendering="crispEdges"/>
<rect x="474.50" y="866.50" width="3.20" height="5.80" fill="#0099e6" shape-rendering="crispEdges"/>
<rect x="482.30" y="820.40" width="4.20" height="51.90" fill="#0099e6" shape-rendering="crispEdges"/>
<rect x="486.50" y="867.00" width="4.20" height="5.30" fill="#0099e6" shape-rendering="crispEdges"/>
<rect x="490.60" y="864.00" width="4.40" height="8.30" fill="#0099e6" shape-rendering="crispEdges"/>
<rect x="513.00" y="864.00" width="4.40" height="8.30" fill="#0099e6" shape-rendering="crispEdges"/>
<rect x="561.00" y="828.90" width="4.20" height="43.40" fill="#0099e6" shape-rendering="crispEdges"/>
<rect x="447.00" y="869.00" width="5.00" height="3.30" fill="#0099e6" shape-rendering="crispEdges"/>
<rect x="464.40" y="870.00" width="6.00" height="2.30" fill="#0099e6" shape-rendering="crispEdges"/>
<rect x="538.00" y="870.30" width="8.00" height="2.00" fill="#0099e6" shape-rendering="crispEdges"/>
<rect x="448.50" y="868.50" width="3.50" height="3.80" fill="#ff6600" shape-rendering="crispEdges"/>
<rect x="578.00" y="761.60" width="4.00" height="6.40" fill="#33004d" shape-rendering="crispEdges"/>
<rect x="582.20" y="761.60" width="4.30" height="13.40" fill="#33004d" shape-rendering="crispEdges"/>
<rect x="600.00" y="761.60" width="6.00" height="2.40" fill="#33004d" shape-rendering="crispEdges"/>
<rect x="622.00" y="761.60" width="4.00" height="3.40" fill="#33004d" shape-rendering="crispEdges"/>
<rect x="644.00" y="761.60" width="4.00" height="2.90" fill="#33004d" shape-rendering="crispEdges"/>
<rect x="1034.40" y="761.60" width="4.00" height="6.40" fill="#33004d" shape-rendering="crispEdges"/>
<rect x="569.40" y="761.60" width="469.00" height="1.60" fill="#33004d" shape-rendering="crispEdges"/>
<rect x="578.20" y="866.50" width="4.00" height="5.80" fill="#0099e6" shape-rendering="crispEdges"/>
<rect x="582.20" y="862.60" width="4.30" height="9.70" fill="#0099e6" shape-rendering="crispEdges"/>
<rect x="599.00" y="866.00" width="5.00" height="6.30" fill="#0099e6" shape-rendering="crispEdges"/>
<rect x="613.00" y="869.50" width="4.00" height="2.80" fill="#0099e6" shape-rendering="crispEdges"/>
<rect x="617.00" y="868.50" width="4.00" height="3.80" fill="#0099e6" shape-rendering="crispEdges"/>
<rect x="621.00" y="867.00" width="4.00" height="5.30" fill="#0099e6" shape-rendering="crispEdges"/>
<rect x="682.00" y="870.50" width="10.00" height="1.80" fill="#0099e6" shape-rendering="crispEdges"/>
<rect x="1034.40" y="869.00" width="4.00" height="3.30" fill="#0099e6" shape-rendering="crispEdges"/>
<rect x="1.00" y="888.40" width="1041.20" height="117.10" fill="#000"/>
<rect x="5.00" y="891.80" width="411.20" height="110.50" fill="#0099e6"/>
<rect x="416.20" y="891.80" width="153.20" height="110.50" fill="#33004d"/>
<rect x="569.40" y="891.80" width="158.80" height="110.50" fill="#0f6b0f"/>
<rect x="728.20" y="891.80" width="310.20" height="110.50" fill="#ff6600"/>
<rect x="5.00" y="891.80" width="411.20" height="2.00" fill="#33004d" shape-rendering="crispEdges"/>
<rect x="17.70" y="891.80" width="4.10" height="21.50" fill="#33004d" shape-rendering="crispEdges"/>
<rect x="44.00" y="891.80" width="4.10" height="10.00" fill="#33004d" shape-rendering="crispEdges"/>
<rect x="38.00" y="891.80" width="6.00" height="3.70" fill="#33004d" shape-rendering="crispEdges"/>
<rect x="71.00" y="891.80" width="4.10" height="9.20" fill="#33004d" shape-rendering="crispEdges"/>
<rect x="75.10" y="891.80" width="4.10" height="10.20" fill="#33004d" shape-rendering="crispEdges"/>
<rect x="79.20" y="891.80" width="4.10" height="4.20" fill="#33004d" shape-rendering="crispEdges"/>
<rect x="83.30" y="891.80" width="4.10" height="4.20" fill="#33004d" shape-rendering="crispEdges"/>
<rect x="87.30" y="891.80" width="4.10" height="82.90" fill="#33004d" shape-rendering="crispEdges"/>
<rect x="91.40" y="891.80" width="4.00" height="4.20" fill="#33004d" shape-rendering="crispEdges"/>
<rect x="108.50" y="891.80" width="4.10" height="21.50" fill="#33004d" shape-rendering="crispEdges"/>
<rect x="117.60" y="891.80" width="4.10" height="17.60" fill="#33004d" shape-rendering="crispEdges"/>
<rect x="156.70" y="891.80" width="4.10" height="57.20" fill="#33004d" shape-rendering="crispEdges"/>
<rect x="160.80" y="891.80" width="4.10" height="38.20" fill="#33004d" shape-rendering="crispEdges"/>
<rect x="164.90" y="891.80" width="4.00" height="4.20" fill="#33004d" shape-rendering="crispEdges"/>
<rect x="230.00" y="891.80" width="8.00" height="5.20" fill="#33004d" shape-rendering="crispEdges"/>
<rect x="238.60" y="891.80" width="4.10" height="15.60" fill="#33004d" shape-rendering="crispEdges"/>
<rect x="246.00" y="891.80" width="6.00" height="4.20" fill="#33004d" shape-rendering="crispEdges"/>
<rect x="252.20" y="891.80" width="4.10" height="17.60" fill="#33004d" shape-rendering="crispEdges"/>
<rect x="256.30" y="891.80" width="4.10" height="5.20" fill="#33004d" shape-rendering="crispEdges"/>
<rect x="261.00" y="891.80" width="4.10" height="21.00" fill="#33004d" shape-rendering="crispEdges"/>
<rect x="265.00" y="891.80" width="4.10" height="8.20" fill="#33004d" shape-rendering="crispEdges"/>
<rect x="269.00" y="891.80" width="8.00" height="4.70" fill="#33004d" shape-rendering="crispEdges"/>
<rect x="282.50" y="891.80" width="4.00" height="5.20" fill="#33004d" shape-rendering="crispEdges"/>
<rect x="286.40" y="891.80" width="5.20" height="24.70" fill="#33004d" shape-rendering="crispEdges"/>
<rect x="291.50" y="891.80" width="4.00" height="11.20" fill="#33004d" shape-rendering="crispEdges"/>
<rect x="295.40" y="891.80" width="4.40" height="104.70" fill="#33004d" shape-rendering="crispEdges"/>
<rect x="299.70" y="891.80" width="4.60" height="10.20" fill="#33004d" shape-rendering="crispEdges"/>
<rect x="304.30" y="891.80" width="4.00" height="27.20" fill="#33004d" shape-rendering="crispEdges"/>
<rect x="308.20" y="891.80" width="4.60" height="18.20" fill="#33004d" shape-rendering="crispEdges"/>
<rect x="312.80" y="891.80" width="13.00" height="2.70" fill="#33004d" shape-rendering="crispEdges"/>
<rect x="326.00" y="891.80" width="4.40" height="103.20" fill="#33004d" shape-rendering="crispEdges"/>
<rect x="330.40" y="891.80" width="4.20" height="25.20" fill="#33004d" shape-rendering="crispEdges"/>
<rect x="334.50" y="891.80" width="4.40" height="108.20" fill="#33004d" shape-rendering="crispEdges"/>
<rect x="338.90" y="891.80" width="4.40" height="104.70" fill="#33004d" shape-rendering="crispEdges"/>
<rect x="343.30" y="891.80" width="14.00" height="3.20" fill="#33004d" shape-rendering="crispEdges"/>
<rect x="356.80" y="891.80" width="7.60" height="5.20" fill="#33004d" shape-rendering="crispEdges"/>
<rect x="364.40" y="891.80" width="5.00" height="3.20" fill="#33004d" shape-rendering="crispEdges"/>
<rect x="369.50" y="891.80" width="4.00" height="8.70" fill="#33004d" shape-rendering="crispEdges"/>
<rect x="373.50" y="891.80" width="6.00" height="3.70" fill="#33004d" shape-rendering="crispEdges"/>
<rect x="391.30" y="891.80" width="4.40" height="97.80" fill="#33004d" shape-rendering="crispEdges"/>
<rect x="417.50" y="962.50" width="4.20" height="39.80" fill="#0099e6" shape-rendering="crispEdges"/>
<rect x="421.70" y="958.50" width="4.20" height="43.80" fill="#0099e6" shape-rendering="crispEdges"/>
<rect x="452.00" y="927.00" width="4.20" height="75.30" fill="#0099e6" shape-rendering="crispEdges"/>
<rect x="456.20" y="995.00" width="4.20" height="7.30" fill="#0099e6" shape-rendering="crispEdges"/>
<rect x="460.40" y="989.00" width="4.00" height="13.30" fill="#0099e6" shape-rendering="crispEdges"/>
<rect x="474.50" y="993.50" width="3.20" height="8.80" fill="#0099e6" shape-rendering="crispEdges"/>
<rect x="482.30" y="956.30" width="4.20" height="46.00" fill="#0099e6" shape-rendering="crispEdges"/>
<rect x="486.50" y="997.00" width="4.20" height="5.30" fill="#0099e6" shape-rendering="crispEdges"/>
<rect x="490.60" y="994.50" width="4.40" height="7.80" fill="#0099e6" shape-rendering="crispEdges"/>
<rect x="513.00" y="996.00" width="4.40" height="6.30" fill="#0099e6" shape-rendering="crispEdges"/>
<rect x="561.00" y="969.60" width="4.20" height="32.70" fill="#0099e6" shape-rendering="crispEdges"/>
<rect x="447.00" y="999.00" width="5.00" height="3.30" fill="#0099e6" shape-rendering="crispEdges"/>
<rect x="464.40" y="1000.00" width="6.00" height="2.30" fill="#0099e6" shape-rendering="crispEdges"/>
<rect x="538.00" y="1000.30" width="8.00" height="2.00" fill="#0099e6" shape-rendering="crispEdges"/>
<rect x="448.50" y="998.50" width="3.50" height="3.80" fill="#ff6600" shape-rendering="crispEdges"/>
<rect x="570.20" y="999.00" width="4.00" height="3.30" fill="#ff6600" shape-rendering="crispEdges"/>
<rect x="574.20" y="977.30" width="4.20" height="25.00" fill="#ff6600" shape-rendering="crispEdges"/>
<rect x="578.40" y="950.40" width="4.20" height="51.90" fill="#ff6600" shape-rendering="crispEdges"/>
<rect x="582.60" y="976.00" width="4.30" height="26.30" fill="#ff6600" shape-rendering="crispEdges"/>
<rect x="586.90" y="958.00" width="4.30" height="44.30" fill="#ff6600" shape-rendering="crispEdges"/>
<rect x="597.00" y="999.50" width="4.00" height="2.80" fill="#ff6600" shape-rendering="crispEdges"/>
<rect x="640.00" y="998.50" width="4.00" height="3.80" fill="#ff6600" shape-rendering="crispEdges"/>
<rect x="648.30" y="976.00" width="4.00" height="26.30" fill="#ff6600" shape-rendering="crispEdges"/>
<rect x="656.00" y="1000.00" width="10.00" height="2.30" fill="#ff6600" shape-rendering="crispEdges"/>
<rect x="670.00" y="993.00" width="4.20" height="9.30" fill="#ff6600" shape-rendering="crispEdges"/>
<rect x="683.00" y="999.50" width="14.00" height="2.80" fill="#ff6600" shape-rendering="crispEdges"/>
<rect x="704.60" y="1000.00" width="4.60" height="2.30" fill="#ff6600" shape-rendering="crispEdges"/>
<rect x="709.20" y="935.80" width="4.10" height="66.50" fill="#ff6600" shape-rendering="crispEdges"/>
<rect x="713.30" y="989.60" width="4.20" height="12.70" fill="#ff6600" shape-rendering="crispEdges"/>
<rect x="721.80" y="996.50" width="4.40" height="5.80" fill="#ff6600" shape-rendering="crispEdges"/>
<rect x="725.80" y="937.60" width="1.60" height="64.70" fill="#ff6600" shape-rendering="crispEdges"/>
<rect x="578.40" y="944.00" width="4.20" height="6.40" fill="#33004d" shape-rendering="crispEdges"/>
<rect x="582.60" y="962.00" width="4.30" height="14.00" fill="#33004d" shape-rendering="crispEdges"/>
<rect x="582.60" y="990.00" width="4.30" height="12.30" fill="#0099e6" shape-rendering="crispEdges"/>
<rect x="578.40" y="998.00" width="4.20" height="4.30" fill="#0099e6" shape-rendering="crispEdges"/>
<rect x="728.20" y="891.80" width="310.20" height="2.20" fill="#0f6b0f" shape-rendering="crispEdges"/>
<rect x="729.50" y="891.80" width="4.60" height="10.00" fill="#0f6b0f" shape-rendering="crispEdges"/>
<rect x="734.00" y="891.80" width="18.00" height="4.20" fill="#0f6b0f" shape-rendering="crispEdges"/>
<rect x="752.00" y="891.80" width="4.40" height="13.80" fill="#0f6b0f" shape-rendering="crispEdges"/>
<rect x="769.40" y="891.80" width="4.40" height="7.20" fill="#0f6b0f" shape-rendering="crispEdges"/>
<rect x="782.00" y="891.80" width="8.00" height="3.70" fill="#0f6b0f" shape-rendering="crispEdges"/>
<rect x="817.30" y="891.80" width="4.00" height="6.70" fill="#0f6b0f" shape-rendering="crispEdges"/>
<rect x="795.00" y="891.80" width="6.00" height="4.20" fill="#0f6b0f" shape-rendering="crispEdges"/>
<rect x="835.20" y="891.80" width="4.00" height="26.60" fill="#0f6b0f" shape-rendering="crispEdges"/>
<rect x="839.20" y="891.80" width="4.40" height="61.70" fill="#0f6b0f" shape-rendering="crispEdges"/>
<rect x="843.60" y="891.80" width="4.20" height="42.00" fill="#0f6b0f" shape-rendering="crispEdges"/>
<rect x="847.80" y="891.80" width="4.30" height="8.70" fill="#0f6b0f" shape-rendering="crispEdges"/>
<rect x="857.00" y="891.80" width="4.00" height="7.20" fill="#0f6b0f" shape-rendering="crispEdges"/>
<rect x="877.50" y="891.80" width="4.00" height="16.20" fill="#0f6b0f" shape-rendering="crispEdges"/>
<rect x="878.40" y="891.80" width="4.00" height="15.80" fill="#0f6b0f" shape-rendering="crispEdges"/>
<rect x="904.80" y="891.80" width="4.00" height="35.10" fill="#0f6b0f" shape-rendering="crispEdges"/>
<rect x="908.80" y="891.80" width="6.00" height="4.70" fill="#0f6b0f" shape-rendering="crispEdges"/>
<rect x="925.00" y="891.80" width="6.00" height="3.70" fill="#0f6b0f" shape-rendering="crispEdges"/>
<rect x="948.80" y="891.80" width="3.40" height="4.20" fill="#0f6b0f" shape-rendering="crispEdges"/>
<rect x="965.40" y="891.80" width="4.00" height="12.20" fill="#0f6b0f" shape-rendering="crispEdges"/>
<rect x="982.00" y="891.80" width="6.00" height="4.70" fill="#0f6b0f" shape-rendering="crispEdges"/>
<rect x="991.00" y="891.80" width="4.00" height="7.20" fill="#0f6b0f" shape-rendering="crispEdges"/>
<rect x="1004.00" y="891.80" width="4.00" height="4.70" fill="#0f6b0f" shape-rendering="crispEdges"/>
<rect x="1013.00" y="891.80" width="4.00" height="5.70" fill="#0f6b0f" shape-rendering="crispEdges"/>
<rect x="1030.70" y="891.80" width="4.00" height="36.10" fill="#0f6b0f" shape-rendering="crispEdges"/>
<rect x="904.80" y="925.00" width="4.00" height="2.00" fill="#33004d" shape-rendering="crispEdges"/>
<rect x="1034.60" y="891.80" width="3.80" height="6.20" fill="#33004d" shape-rendering="crispEdges"/>
<rect x="1034.60" y="996.50" width="3.80" height="5.80" fill="#0099e6" shape-rendering="crispEdges"/>
<rect x="904.80" y="1002.00" width="4.00" height="0.30" fill="#0099e6" shape-rendering="crispEdges"/>
<rect x="415.20" y="758.00" width="2.00" height="311.30" fill="#000"/>
<rect x="568.70" y="625.60" width="1.30" height="117.30" fill="#000"/>
<rect x="565.90" y="758.00" width="2.00" height="311.30" fill="#000"/>
<rect x="567.50" y="758.00" width="2.40" height="117.70" fill="#000"/>
<rect x="567.50" y="888.40" width="2.20" height="117.10" fill="#000"/>
<rect x="727.20" y="888.40" width="2.00" height="180.90" fill="#000"/>
</g>
</svg>
<div class="t" style="left:13.5px;top:36.86px;font-size:33.6px;line-height:38.606px;">A</div>
<div class="t" style="left:8.6px;top:547.20px;font-size:33px;line-height:37.917px;">B</div>
<div class="t" style="left:943px;top:276.73px;font-size:35.1px;line-height:40.330px;"><i>rufipogon</i> accessions</div>
<div class="t" style="left:943px;top:320.73px;font-size:35.1px;line-height:40.330px;"><i>nivara</i> accessions</div>
<div class="t" style="left:156px;top:575.73px;font-size:35.1px;line-height:40.330px;"><i>rufipogon</i> accessions</div>
<div class="t" style="left:650.4px;top:576.73px;font-size:35.1px;line-height:40.330px;"><i>nivara</i> accessions</div>
<div class="t" style="left:1064.6px;top:661.26px;font-size:34.5px;line-height:39.641px;">K = 2</div>
<div class="t" style="left:1068.2px;top:794.96px;font-size:34.5px;line-height:39.641px;">K = 3</div>
<div class="t" style="left:1070.3px;top:926.36px;font-size:34.5px;line-height:39.641px;">K = 4</div>
<div class="t" style="left:808px;top:44.14px;font-size:16.9px;line-height:19.418px;">collection from</div>
<div class="t" style="left:580.9px;top:1014.64px;font-size:16.9px;line-height:19.418px;">collection from</div>
<div class="t" style="left:808px;top:63.44px;font-size:16.9px;line-height:19.418px;">24 parganas and</div>
<div class="t" style="left:580.9px;top:1033.89px;font-size:16.9px;line-height:19.418px;">24 parganas and</div>
<div class="t" style="left:808px;top:82.74px;font-size:16.9px;line-height:19.418px;">its nearby areas</div>
<div class="t" style="left:580.9px;top:1053.14px;font-size:16.9px;line-height:19.418px;">its nearby areas</div>
<div class="t" style="left:808px;top:102.04px;font-size:16.9px;line-height:19.418px;">of West Bengal</div>
<div class="t" style="left:580.9px;top:1072.39px;font-size:16.9px;line-height:19.418px;">of West Bengal</div>
<div class="t" style="left:169.6px;top:394.54px;font-size:16.9px;line-height:19.418px;">collection from</div>
<div class="t" style="left:434.6px;top:1016.04px;font-size:16.9px;line-height:19.418px;">collection from</div>
<div class="t" style="left:169.6px;top:413.84px;font-size:16.9px;line-height:19.418px;">north-western</div>
<div class="t" style="left:434.6px;top:1035.34px;font-size:16.9px;line-height:19.418px;">north-western</div>
<div class="t" style="left:169.6px;top:433.14px;font-size:16.9px;line-height:19.418px;">parts of Odisha</div>
<div class="t" style="left:434.6px;top:1054.64px;font-size:16.9px;line-height:19.418px;">parts of Odisha</div>
<div class="t" style="left:283px;top:524.19px;font-size:15.5px;line-height:17.809px;">0.1</div>
</div>
</body></html>
